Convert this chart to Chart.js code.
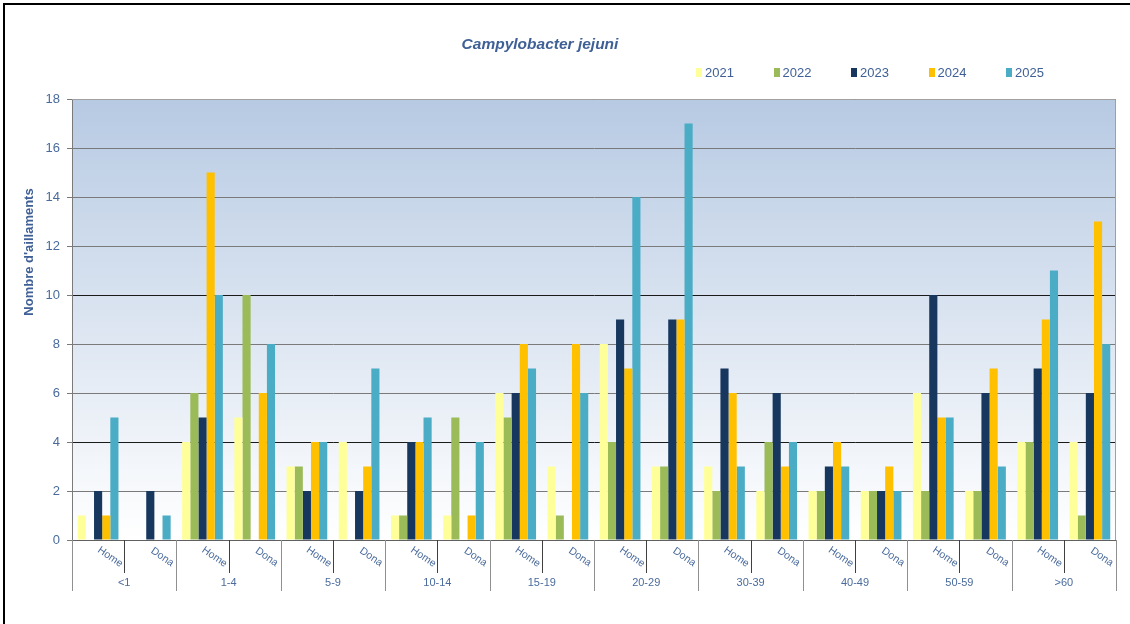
<!DOCTYPE html>
<html>
<head>
<meta charset="utf-8">
<script src="https://cdn.jsdelivr.net/npm/chart.js@4"></script>
<style>
  html, body { margin: 0; padding: 0; background: #fff; }
  #wrap { position: relative; width: 1130px; height: 624px; overflow: hidden; }
  #frame { position: absolute; left: 3px; top: 3px; width: 1140px; height: 640px;
           border-top: 2px solid #000; border-left: 2px solid #000; pointer-events: none; }
  canvas { position: absolute; left: 0; top: 0; }
</style>
</head>
<body>
<div id="wrap">
  <canvas id="c" width="1130" height="624"></canvas>
  <div id="frame"></div>
</div>
<script>
// ---- Data ----
const ageGroups = ['<1', '1-4', '5-9', '10-14', '15-19', '20-29', '30-39', '40-49', '50-59', '>60'];
const subGroups = ['Home', 'Dona'];
const years = ['2021', '2022', '2023', '2024', '2025'];
const s2021 = [1, 0, 4, 5, 3, 4, 1, 1, 6, 3, 8, 3, 3, 2, 2, 2, 6, 2, 4, 4];
const s2022 = [0, 0, 6, 10, 3, 0, 1, 5, 5, 1, 4, 3, 2, 4, 2, 2, 2, 2, 4, 1];
const s2023 = [2, 2, 5, 0, 2, 2, 4, 0, 6, 0, 9, 9, 7, 6, 3, 2, 10, 6, 7, 6];
const s2024 = [1, 0, 15, 6, 4, 3, 4, 1, 8, 8, 7, 9, 6, 3, 4, 3, 5, 7, 9, 13];
const s2025 = [5, 1, 10, 8, 4, 7, 5, 4, 7, 6, 14, 17, 3, 4, 3, 2, 5, 3, 11, 8];
const yTicks = [0, 2, 4, 6, 8, 10, 12, 14, 16, 18];
const chartTitle = 'Campylobacter jejuni';
const yTitle = "Nombre d'aillaments";

// ---- Build ----
const labels = [];
ageGroups.forEach(g => subGroups.forEach(s => labels.push(s)));
const seriesValues = [s2021, s2022, s2023, s2024, s2025];
const colors = ['#ffff99', '#9bbb59', '#17375e', '#ffc000', '#4bacc6'];
const FONT = '"Liberation Sans", Arial, sans-serif';
const TXT = '#4a6b9c';

const decor = {
  id: 'decor',
  beforeDraw(chart) {
    const { ctx, chartArea: a } = chart;
    const g = ctx.createLinearGradient(0, a.top, 0, a.bottom);
    g.addColorStop(0, '#b7cae3');
    g.addColorStop(1, '#ffffff');
    ctx.save();
    ctx.fillStyle = g;
    ctx.fillRect(a.left, a.top, a.right - a.left, a.bottom - a.top);
    ctx.restore();
  },
  afterDraw(chart) {
    const { ctx, chartArea: a } = chart;
    const xs = chart.scales.x;
    const n = labels.length;
    const cw = (a.right - a.left) / n;
    ctx.save();
    // plot border top/right
    ctx.strokeStyle = '#a0a0a0';
    ctx.lineWidth = 1;
    ctx.beginPath();
    ctx.moveTo(a.left, a.top + 0.5);
    ctx.lineTo(a.right - 0.5, a.top + 0.5);
    ctx.lineTo(a.right - 0.5, a.bottom);
    ctx.stroke();

    // separators
    for (let i = 0; i <= n; i++) {
      const x = Math.round(a.left + i * cw) + 0.5;
      const long = (i % 2 === 0);
      ctx.strokeStyle = long ? '#909090' : '#404040';
      ctx.beginPath();
      ctx.moveTo(x, a.bottom);
      ctx.lineTo(x, long ? a.bottom + 51 : a.bottom + 33);
      ctx.stroke();
    }
    // rotated sub labels
    ctx.fillStyle = TXT;
    ctx.font = '10.5px ' + FONT;
    ctx.textAlign = 'center';
    ctx.textBaseline = 'middle';
    for (let i = 0; i < n; i++) {
      const cx = xs.getPixelForValue(i);
      ctx.save();
      ctx.translate(cx + 12, a.bottom + 17);
      ctx.rotate(0.6);
      ctx.fillText(labels[i], 0, 0);
      ctx.restore();
    }
    // group labels
    ctx.font = '11px ' + FONT;
    for (let gi = 0; gi < ageGroups.length; gi++) {
      const x = a.left + (gi * 2 + 1) * cw;
      ctx.fillText(ageGroups[gi], x, a.bottom + 43);
    }
    // title
    ctx.fillStyle = '#3f6096';
    ctx.font = 'italic bold 15.5px ' + FONT;
    ctx.fillText(chartTitle, 540, 45);
    // y title
    ctx.save();
    ctx.translate(29, 252);
    ctx.rotate(-Math.PI / 2);
    ctx.font = 'bold 13px ' + FONT;
    ctx.fillText(yTitle, 0, 0);
    ctx.restore();
    // legend
    ctx.textAlign = 'left';
    ctx.font = '13px ' + FONT;
    chart.data.datasets.forEach((ds, k) => {
      const x0 = 696 + k * 77.5;
      ctx.fillStyle = ds.backgroundColor;
      ctx.fillRect(Math.round(x0), 68, 6, 9);
      ctx.fillStyle = '#3f6096';
      ctx.fillText(ds.label, x0 + 9, 73);
    });
    ctx.restore();
  }
};

new Chart(document.getElementById('c'), {
  type: 'bar',
  data: {
    labels: labels,
    datasets: years.map((y, k) => ({
      label: y,
      data: seriesValues[k],
      backgroundColor: colors[k],
      borderWidth: 0,
      categoryPercentage: 0.78,
      barPercentage: 1.0
    }))
  },
  options: {
    responsive: false,
    animation: false,
    devicePixelRatio: 1,
    layout: { padding: { top: 99, right: 14, bottom: 0, left: 0 } },
    plugins: { legend: { display: false }, title: { display: false }, tooltip: { enabled: false } },
    scales: {
      x: {
        grid: { display: false },
        border: { display: true, color: '#606060' },
        ticks: { display: false },
        afterFit(s) { s.height = 84; }
      },
      y: {
        min: 0, max: 18,
        afterBuildTicks(s) { s.ticks = yTicks.map(v => ({ value: v })); },
        grid: {
          color: c => (c.tick && (c.tick.value === 4 || c.tick.value === 10)) ? '#1a1a1a' : '#7a7a7a',
          tickColor: '#7a7a7a',
          tickLength: 5
        },
        border: { display: true, color: '#7a7a7a' },
        ticks: { color: TXT, font: { family: FONT, size: 13 }, padding: 7 },
        afterFit(s) { s.width = 72; }
      }
    }
  },
  plugins: [decor]
});
</script>
</body>
</html>
